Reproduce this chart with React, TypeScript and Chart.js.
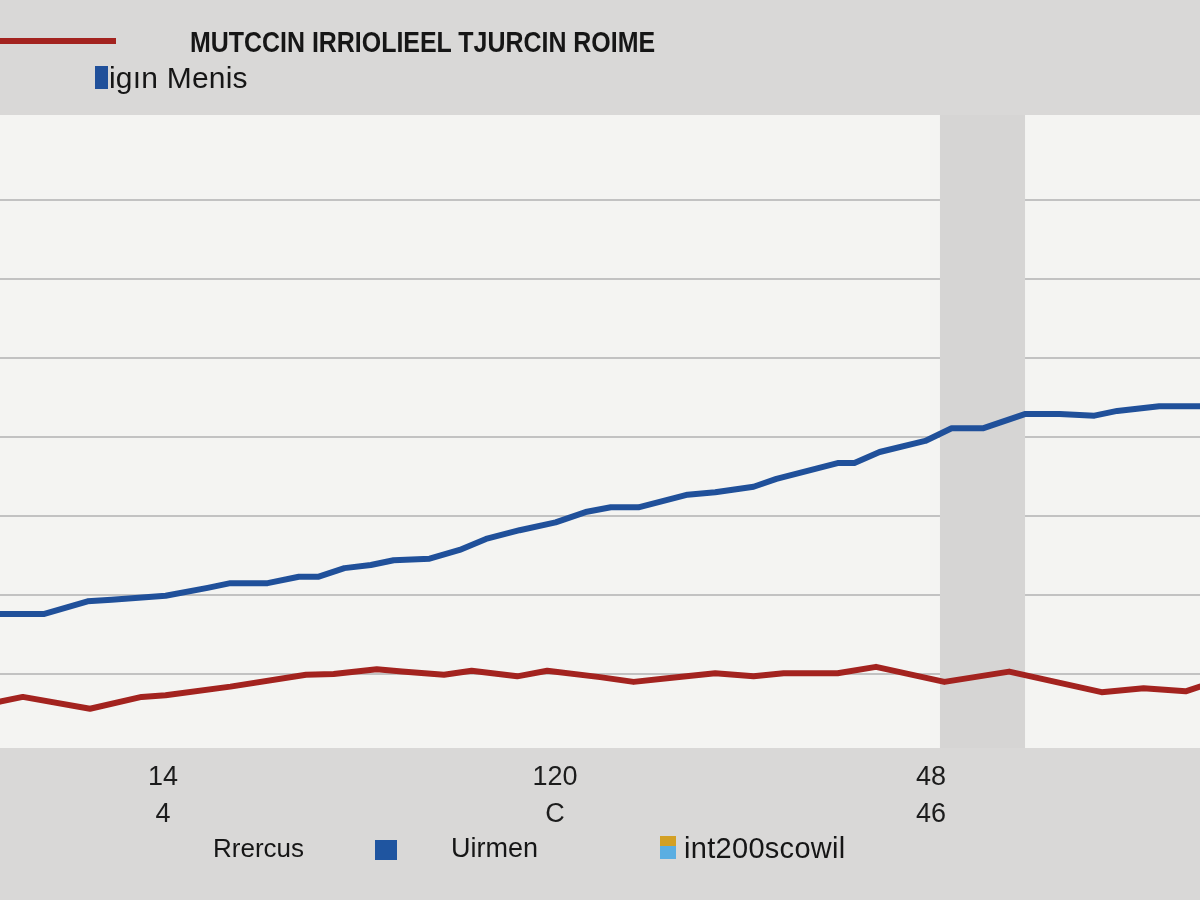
import React, { useEffect, useRef } from "react";
import { Chart, registerables } from "chart.js";

Chart.register(...registerables);

// ---- data ----
const titleText = "MUTCCIN IRRIOLIEEL TJURCIN ROIME";
const subtitleText = "igın Menis";
const legendNames = ["Rrercus", "Uirmen", "int200scowil"];

const blueX = [0, 3.7, 7.3, 9.3, 13.8, 17.3, 19.2, 22.3, 24.9, 26.5, 28.7, 30.9, 32.8, 35.8, 38.3, 40.5, 43.3, 46.3, 48.8, 50.9, 53.2, 57.3, 59.6, 62.8, 64.7, 69.8, 71.2, 73.3, 77.1, 79.3, 81.9, 85.4, 88.3, 91.2, 93.1, 96.6, 100];
const blueY = [17.6, 17.6, 19.2, 19.4, 19.9, 20.9, 21.5, 21.5, 22.3, 22.3, 23.4, 23.8, 24.4, 24.6, 25.7, 27.1, 28.2, 29.2, 30.5, 31.1, 31.1, 32.7, 33.0, 33.7, 34.7, 36.7, 36.7, 38.1, 39.5, 41.1, 41.1, 42.9, 42.9, 42.7, 43.3, 43.9, 43.9];

const redX = [0, 1.9, 7.5, 11.8, 13.8, 19.2, 25.5, 27.8, 31.4, 33.5, 37.0, 39.3, 43.1, 45.6, 50, 52.8, 55.8, 59.6, 62.8, 65.3, 69.8, 73.0, 78.7, 84.1, 91.8, 95.3, 98.8, 100];
const redY = [6.5, 7.1, 5.6, 7.1, 7.3, 8.4, 9.9, 10, 10.6, 10.3, 9.9, 10.4, 9.7, 10.4, 9.6, 9.0, 9.5, 10.1, 9.7, 10.1, 10.1, 10.9, 9.0, 10.3, 7.7, 8.2, 7.8, 8.4];

const xTickValues = [13.58, 46.25, 77.58];
const xTickLabels = [["14", "4"], ["120", "C"], ["48", "46"]];
const yGridValues = [10, 20, 30, 40, 50, 60, 70];
const xRange = [0, 100];
const yRange = [0.63, 80.76];
const bandRange = [78.33, 85.42];

// ---- styles ----
const PAGE_BG = "#d9d8d7";
const PLOT_BG = "#f4f4f2";
const BAND_BG = "#d6d5d4";
const BLUE = "#20509a";
const RED = "#a3231f";
const FONT = '"Liberation Sans", Arial, sans-serif';

const bgPlugin = {
  id: "plotBg",
  beforeDraw(chart: any) {
    const { ctx, chartArea } = chart;
    ctx.save();
    ctx.fillStyle = PLOT_BG;
    ctx.fillRect(chartArea.left, chartArea.top, chartArea.right - chartArea.left, chartArea.bottom - chartArea.top);
    ctx.restore();
  },
  beforeDatasetsDraw(chart: any) {
    const { ctx, chartArea, scales } = chart;
    const x0 = scales.x.getPixelForValue(bandRange[0]);
    const x1 = scales.x.getPixelForValue(bandRange[1]);
    ctx.save();
    ctx.fillStyle = BAND_BG;
    ctx.fillRect(x0, chartArea.top, x1 - x0, chartArea.bottom - chartArea.top);
    ctx.restore();
  },
};

export default function App() {
  const canvasRef = useRef<HTMLCanvasElement | null>(null);

  useEffect(() => {
    document.body.style.margin = "0";
    const canvas = canvasRef.current;
    if (!canvas) return;
    const chart = new Chart(canvas, {
      type: "line",
      data: {
        datasets: [
          {
            label: legendNames[1],
            data: blueX.map((x, i) => ({ x, y: blueY[i] })),
            borderColor: BLUE,
            borderWidth: 6,
            pointRadius: 0,
            tension: 0,
            borderJoinStyle: "round",
            borderCapStyle: "round",
            fill: false,
          },
          {
            label: legendNames[0],
            data: redX.map((x, i) => ({ x, y: redY[i] })),
            borderColor: RED,
            borderWidth: 6,
            pointRadius: 0,
            tension: 0,
            borderJoinStyle: "round",
            borderCapStyle: "round",
            fill: false,
          },
        ],
      },
      options: {
        responsive: false,
        animation: false,
        devicePixelRatio: 1,
        layout: { padding: { top: 115, left: 0, right: 0, bottom: 0 } },
        plugins: {
          legend: { display: false },
          title: { display: false },
          tooltip: { enabled: false },
        },
        scales: {
          x: {
            type: "linear",
            min: xRange[0],
            max: xRange[1],
            grid: { display: false, drawTicks: false },
            border: { display: false },
            afterBuildTicks: (scale: any) => {
              scale.ticks = xTickValues.map((v) => ({ value: v }));
            },
            afterFit: (scale: any) => {
              scale.height = 152;
            },
            ticks: {
              autoSkip: false,
              maxRotation: 0,
              minRotation: 0,
              padding: 11,
              color: "#1c1c1c",
              font: { family: FONT, size: 27, lineHeight: 1.36 },
              callback: (_v: any, i: number) => xTickLabels[i],
            },
          },
          y: {
            type: "linear",
            min: yRange[0],
            max: yRange[1],
            grid: { color: "#c2c2c2", lineWidth: 2, drawTicks: false },
            border: { display: false },
            afterBuildTicks: (scale: any) => {
              scale.ticks = yGridValues.map((v) => ({ value: v }));
            },
            afterFit: (scale: any) => {
              scale.width = 0;
            },
            ticks: { display: false },
          },
        },
      },
      plugins: [bgPlugin],
    } as any);
    return () => chart.destroy();
  }, []);

  const text: React.CSSProperties = {
    position: "absolute",
    fontFamily: FONT,
    color: "#161616",
    whiteSpace: "nowrap",
    lineHeight: 1,
  };

  return (
    <div style={{ position: "absolute", left: 0, top: 0, width: 1200, height: 900, background: PAGE_BG, overflow: "hidden" }}>
      <canvas ref={canvasRef} width={1200} height={900} style={{ position: "absolute", left: 0, top: 0 }} />
      {/* header */}
      <div style={{ position: "absolute", left: 0, top: 38, width: 116, height: 6, background: RED }} />
      <div
        style={{
          ...text,
          left: 190,
          top: 28,
          fontSize: 29,
          fontWeight: 700,
          transform: "scaleX(0.86)",
          transformOrigin: "left top",
        }}
      >
        {titleText}
      </div>
      <div style={{ position: "absolute", left: 95, top: 66, width: 13, height: 23, background: BLUE }} />
      <div style={{ ...text, left: 109, top: 63, fontSize: 30, letterSpacing: "0.2px" }}>{subtitleText}</div>
      {/* bottom legend */}
      <div style={{ ...text, left: 213, top: 835, fontSize: 26 }}>{legendNames[0]}</div>
      <div style={{ position: "absolute", left: 375, top: 840, width: 22, height: 20, background: "#1f55a0" }} />
      <div style={{ ...text, left: 451, top: 835, fontSize: 27 }}>{legendNames[1]}</div>
      <div style={{ position: "absolute", left: 660, top: 836, width: 16, height: 10, background: "#d3a024" }} />
      <div style={{ position: "absolute", left: 660, top: 846, width: 16, height: 13, background: "#5aaee2" }} />
      <div style={{ ...text, left: 684, top: 834, fontSize: 29, letterSpacing: "0.3px" }}>{legendNames[2]}</div>
    </div>
  );
}
